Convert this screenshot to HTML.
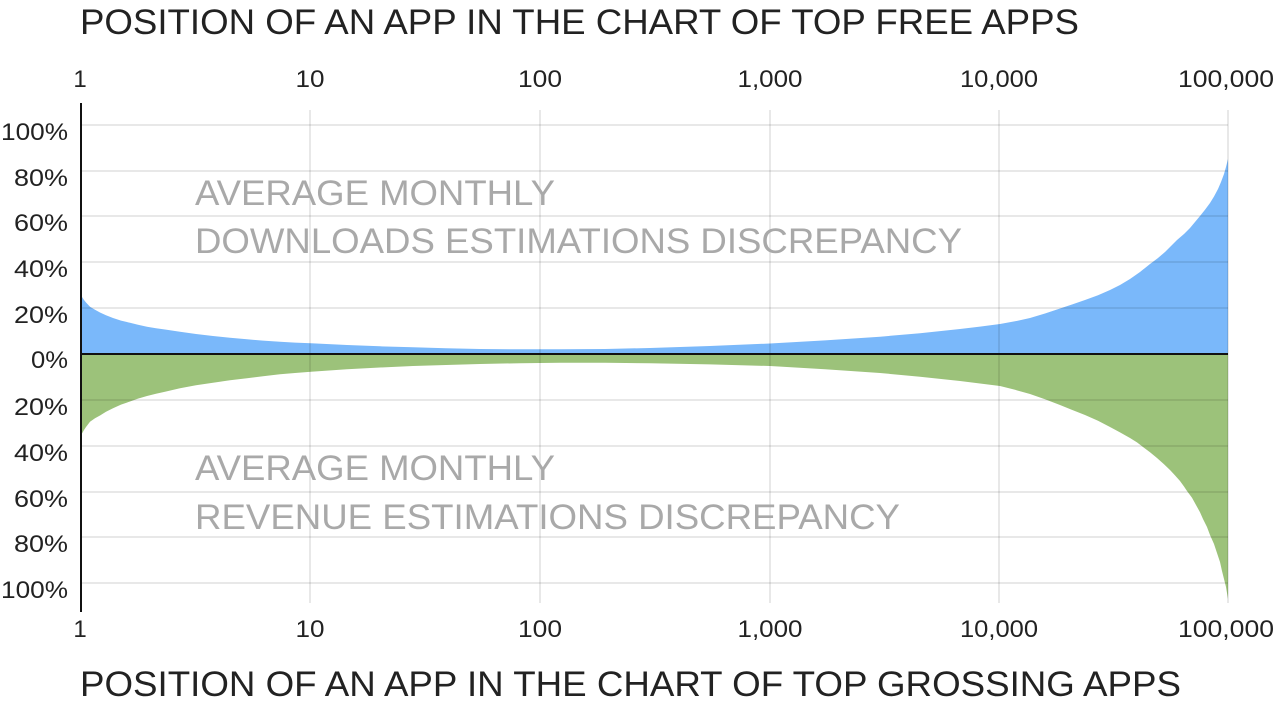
<!DOCTYPE html>
<html>
<head>
<meta charset="utf-8">
<style>
  html, body { margin:0; padding:0; background:#fff; }
  body { width:1280px; height:704px; overflow:hidden; }
  svg { display:block; }
  text { font-family: "Liberation Sans", Arial, sans-serif; }
</style>
</head>
<body>
<svg width="1280" height="704" viewBox="0 0 1280 704" xmlns="http://www.w3.org/2000/svg">
  <rect x="0" y="0" width="1280" height="704" fill="#fff"/>

  <!-- Blue area (downloads) -->
  <polygon fill="#7ab8fa" points="81,354 81,294 82,297 84,300 86,302.5 90,306.7 95,309.8 100,312.5 106,315.3 113,318 121,320.6 130,322.8 138,324.8 147,326.7 156,328.2 165,329.5 180,331.7 196,334 213,336 230,337.8 247,339.3 263,340.6 280,341.7 295,342.6 311,343.3 347,345 380,346.3 413,347.3 446,348.2 480,349 520,349.3 560,349.3 605,349 650,348 710,346 770,343.5 825,340.4 880,336.7 920,333.2 960,329 980,326.6 1000,324 1015,321.3 1030,318 1045,313.5 1060,308.5 1072,304.5 1085,300 1098,295.3 1110,290 1120,285 1130,279 1140,272 1150,264 1158,258 1165,252 1171,246 1177,240 1184,234 1190,228 1195,222 1200,216 1205,209.8 1210,203 1214,196.5 1218,189 1221,182 1224,174 1226,167 1228,159 1228,354"/>

  <!-- Green area (revenue) -->
  <polygon fill="#9cc27a" points="81,354 81,437 82,433.5 84,430 86,427 90,421.7 95,418.3 100,415.5 106,411.8 113,408.3 121,404.6 130,401.5 138,398.6 147,396 156,393.8 165,391.8 180,388.3 196,385.3 213,382.7 230,380.3 247,378.3 263,376.2 280,374.3 295,373 311,371.7 347,369.3 380,367.5 413,366 446,365 480,364 520,363.2 560,362.7 605,362.7 650,363.3 710,364.4 770,366 825,369.2 880,373 920,376.7 960,381 980,383.5 1000,386 1015,389.8 1030,394 1045,399.3 1060,405 1072,409.9 1085,415 1098,420.8 1110,427 1120,432.4 1130,438 1137,442.4 1143,447 1150,452.3 1157,458 1164,464.2 1170,470 1175,475.4 1180,481 1184,486.5 1187,491 1192,497.8 1196,505 1200,512.2 1203,519 1207,527 1210,535 1214,544 1217,553 1220,562 1222,571 1224,579 1226,587 1227,593 1228,599 1228,354"/>

  <!-- Gridlines -->
  <g stroke="#000" stroke-opacity="0.14" stroke-width="1.3">
    <line x1="81" y1="125" x2="1228" y2="125"/>
    <line x1="81" y1="171" x2="1228" y2="171"/>
    <line x1="81" y1="216" x2="1228" y2="216"/>
    <line x1="81" y1="262" x2="1228" y2="262"/>
    <line x1="81" y1="308" x2="1228" y2="308"/>
    <line x1="81" y1="400" x2="1228" y2="400"/>
    <line x1="81" y1="446" x2="1228" y2="446"/>
    <line x1="81" y1="492" x2="1228" y2="492"/>
    <line x1="81" y1="537" x2="1228" y2="537"/>
    <line x1="81" y1="583" x2="1228" y2="583"/>
    <line x1="310" y1="110" x2="310" y2="603"/>
    <line x1="540" y1="110" x2="540" y2="603"/>
    <line x1="770" y1="110" x2="770" y2="603"/>
    <line x1="999" y1="110" x2="999" y2="603"/>
    <line x1="1228" y1="110" x2="1228" y2="603"/>
  </g>

  <!-- Axes -->
  <line x1="81" y1="354" x2="1228" y2="354" stroke="#111" stroke-width="2"/>
  <line x1="81" y1="103" x2="81" y2="612" stroke="#111" stroke-width="2"/>

  <!-- Titles -->
  <text x="80" y="34" font-size="35" fill="#222" textLength="999" lengthAdjust="spacingAndGlyphs">POSITION OF AN APP IN THE CHART OF TOP FREE APPS</text>
  <text x="80" y="696" font-size="35" fill="#222" textLength="1101" lengthAdjust="spacingAndGlyphs">POSITION OF AN APP IN THE CHART OF TOP GROSSING APPS</text>

  <!-- Top tick labels -->
  <g font-size="24" fill="#222" text-anchor="middle">
    <text x="80" y="87">1</text>
    <text x="310" y="87" textLength="29" lengthAdjust="spacingAndGlyphs">10</text>
    <text x="540" y="87" textLength="44" lengthAdjust="spacingAndGlyphs">100</text>
    <text x="770" y="87" textLength="65" lengthAdjust="spacingAndGlyphs">1,000</text>
    <text x="999" y="87" textLength="78" lengthAdjust="spacingAndGlyphs">10,000</text>
    <text x="1226" y="87" textLength="96" lengthAdjust="spacingAndGlyphs">100,000</text>
  </g>

  <!-- Bottom tick labels -->
  <g font-size="24" fill="#222" text-anchor="middle">
    <text x="80" y="637">1</text>
    <text x="310" y="637" textLength="29" lengthAdjust="spacingAndGlyphs">10</text>
    <text x="540" y="637" textLength="44" lengthAdjust="spacingAndGlyphs">100</text>
    <text x="770" y="637" textLength="65" lengthAdjust="spacingAndGlyphs">1,000</text>
    <text x="999" y="637" textLength="78" lengthAdjust="spacingAndGlyphs">10,000</text>
    <text x="1226" y="637" textLength="96" lengthAdjust="spacingAndGlyphs">100,000</text>
  </g>

  <!-- Y labels -->
  <g font-size="24" fill="#222" text-anchor="end">
    <text x="68" y="140" textLength="67" lengthAdjust="spacingAndGlyphs">100%</text>
    <text x="68" y="186" textLength="54" lengthAdjust="spacingAndGlyphs">80%</text>
    <text x="68" y="231" textLength="54" lengthAdjust="spacingAndGlyphs">60%</text>
    <text x="68" y="277" textLength="54" lengthAdjust="spacingAndGlyphs">40%</text>
    <text x="68" y="323" textLength="54" lengthAdjust="spacingAndGlyphs">20%</text>
    <text x="68" y="368" textLength="37" lengthAdjust="spacingAndGlyphs">0%</text>
    <text x="68" y="415" textLength="54" lengthAdjust="spacingAndGlyphs">20%</text>
    <text x="68" y="461" textLength="54" lengthAdjust="spacingAndGlyphs">40%</text>
    <text x="68" y="507" textLength="54" lengthAdjust="spacingAndGlyphs">60%</text>
    <text x="68" y="552" textLength="54" lengthAdjust="spacingAndGlyphs">80%</text>
    <text x="68" y="598" textLength="67" lengthAdjust="spacingAndGlyphs">100%</text>
  </g>

  <!-- Inner annotations -->
  <g font-size="35" fill="#a9a9a9">
    <text x="195" y="205" textLength="360" lengthAdjust="spacingAndGlyphs">AVERAGE MONTHLY</text>
    <text x="195" y="253" textLength="767" lengthAdjust="spacingAndGlyphs">DOWNLOADS ESTIMATIONS DISCREPANCY</text>
    <text x="195" y="480" textLength="360" lengthAdjust="spacingAndGlyphs">AVERAGE MONTHLY</text>
    <text x="195" y="529" textLength="705" lengthAdjust="spacingAndGlyphs">REVENUE ESTIMATIONS DISCREPANCY</text>
  </g>
</svg>
</body>
</html>
